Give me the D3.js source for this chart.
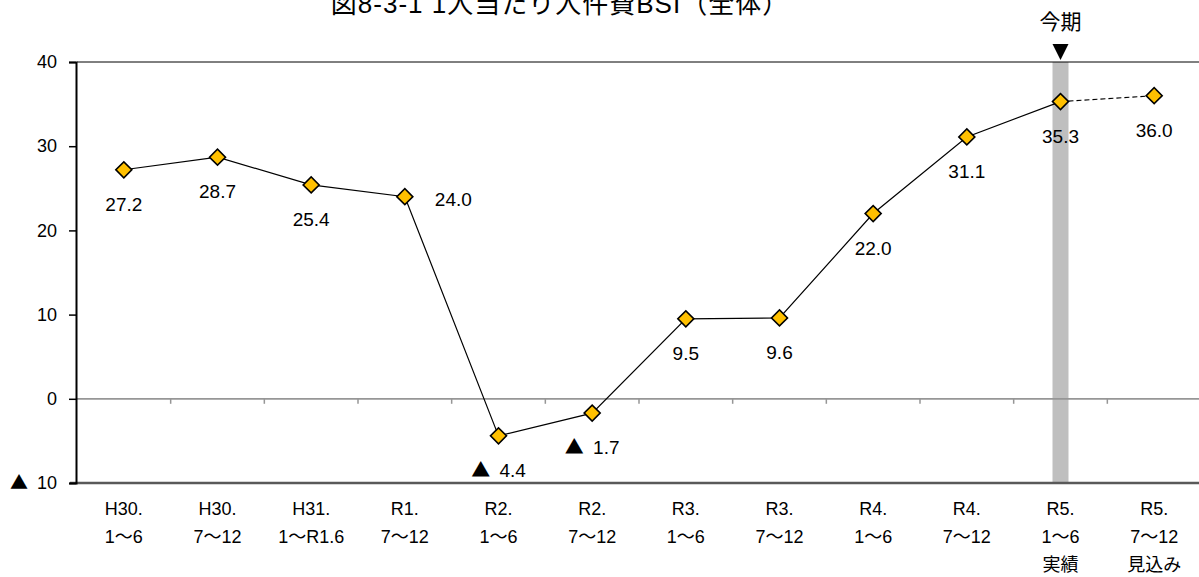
<!DOCTYPE html>
<html>
<head>
<meta charset="utf-8">
<script src="https://cdn.jsdelivr.net/npm/d3@7/dist/d3.min.js"></script>
<style>
  html, body { margin: 0; padding: 0; background: #fff; }
  svg { display: block; }
  text { font-family: "Liberation Sans", "Noto Sans CJK JP", sans-serif; fill: #000; }
  .tri { font-family: "Noto Sans CJK JP", sans-serif; }
</style>
</head>
<body>
<svg id="chart" width="1199" height="577"></svg>
<script>
// ---- data ----
const title = "図8-3-1 1人当たり人件費BSI（全体）";
const categories = ["H30.|1～6", "H30.|7～12", "H31.|1～R1.6", "R1.|7～12", "R2.|1～6", "R2.|7～12",
                    "R3.|1～6", "R3.|7～12", "R4.|1～6", "R4.|7～12", "R5.|1～6|実績", "R5.|7～12|見込み"];
const values = [27.2, 28.7, 25.4, 24.0, -4.4, -1.7, 9.5, 9.6, 22.0, 31.1, 35.3, 36.0];
const yTicks = [-10, 0, 10, 20, 30, 40];
const labelSide = ["below", "below", "below", "right", "below", "below", "below", "below", "below", "below", "below", "below"];
const currentIndex = 10;       // 今期 (actual), highlighted
const forecastIndex = 11;      // 見込み, dashed link
const currentLabel = "今期";
const negMark = "▲";

// ---- layout ----
const W = 1199, H = 577;
const plot = { left: 77, right: 1201, top: 62, bottom: 483 };

const svg = d3.select("#chart");

const x = d3.scaleBand().domain(categories).range([plot.left, plot.right]).padding(0);
const y = d3.scaleLinear().domain([-10, 40]).range([plot.bottom, plot.top]);
const cx = (i) => x(categories[i]) + x.bandwidth() / 2;

// write a number into a text element, with a big ▲ for negatives
function writeNum(sel, v, decimals) {
  sel.text(null);
  const s = decimals ? d3.format(".1f")(Math.abs(v)) : String(Math.abs(v));
  if (v < 0) {
    sel.append("tspan").attr("class", "tri").text(negMark);
    sel.append("tspan").attr("dx", 4).text(" " + s);
  } else {
    sel.append("tspan").text(s);
  }
}

// title
svg.append("text")
  .attr("x", 560).attr("y", 13)
  .attr("text-anchor", "middle")
  .style("font-size", "26px")
  .style("letter-spacing", "1px")
  .text(title);

// current-period band
svg.append("rect")
  .attr("x", cx(currentIndex) - 8)
  .attr("width", 16)
  .attr("y", y(40))
  .attr("height", y(-10) - y(40))
  .attr("fill", "#bfbfbf");

// top border line (40)
svg.append("line")
  .attr("x1", plot.left).attr("x2", W)
  .attr("y1", y(40)).attr("y2", y(40))
  .attr("stroke", "#000").attr("stroke-width", 1);

// zero line
svg.append("line")
  .attr("x1", plot.left).attr("x2", W)
  .attr("y1", y(0)).attr("y2", y(0))
  .attr("stroke", "#969696").attr("stroke-width", 1.8);

// zero-line category ticks (boundaries)
svg.append("g").selectAll("line")
  .data(categories.slice(1))
  .join("line")
  .attr("x1", d => x(d)).attr("x2", d => x(d))
  .attr("y1", y(0)).attr("y2", y(0) + 5)
  .attr("stroke", "#969696").attr("stroke-width", 1.5);

// bottom line (-10)
svg.append("line")
  .attr("x1", plot.left - 7).attr("x2", W)
  .attr("y1", y(-10)).attr("y2", y(-10))
  .attr("stroke", "#595959").attr("stroke-width", 2.5);

// y axis
const yAxis = d3.axisLeft(y).tickValues(yTicks).tickSize(7).tickPadding(12);
const gy = svg.append("g").attr("transform", `translate(${plot.left - 1},0)`).call(yAxis);
gy.select(".domain").attr("stroke", "#000").attr("stroke-width", 2);
gy.selectAll(".tick line").attr("stroke", "#000").attr("stroke-width", 1.5);
gy.selectAll(".tick text")
  .style("font-size", "18px")
  .style("font-family", "'Liberation Sans', 'Noto Sans CJK JP', sans-serif")
  .attr("fill", "#000")
  .each(function (d) { writeNum(d3.select(this), d, false); });

// category labels
const xl = svg.append("g");
categories.forEach((c, i) => {
  const lines = c.split("|");
  const t = xl.append("text")
    .attr("text-anchor", "middle")
    .style("font-size", "18px");
  lines.forEach((ln, k) => {
    t.append("tspan").attr("x", cx(i)).attr("y", 515 + k * 28).text(ln);
  });
});

// lines
const line = d3.line().x((d) => cx(d.i)).y((d) => y(d.v));
const pts = values.map((v, i) => ({ v, i }));
svg.append("path")
  .attr("d", line(pts.slice(0, forecastIndex)))
  .attr("fill", "none").attr("stroke", "#000").attr("stroke-width", 1.2);
svg.append("path")
  .attr("d", line(pts.slice(forecastIndex - 1, forecastIndex + 1)))
  .attr("fill", "none").attr("stroke", "#000").attr("stroke-width", 1.2)
  .attr("stroke-dasharray", "5,3");

// markers
const diamond = d3.symbol().type(d3.symbolSquare).size(128);
svg.append("g").selectAll("path")
  .data(pts)
  .join("path")
  .attr("d", diamond)
  .attr("transform", d => `translate(${cx(d.i)},${y(d.v)}) rotate(45)`)
  .attr("fill", "#ffc000")
  .attr("stroke", "#000")
  .attr("stroke-width", 1.6);

// data labels
svg.append("g").selectAll("text")
  .data(pts)
  .join("text")
  .attr("x", d => labelSide[d.i] === "right" ? cx(d.i) + 30 : cx(d.i))
  .attr("y", d => labelSide[d.i] === "right" ? y(d.v) + 9 : y(d.v) + 41)
  .attr("text-anchor", d => labelSide[d.i] === "right" ? "start" : "middle")
  .style("font-size", "19px")
  .each(function (d) { writeNum(d3.select(this), d.v, true); });

// 今期 marker
svg.append("text")
  .attr("x", cx(currentIndex)).attr("y", 29)
  .attr("text-anchor", "middle")
  .style("font-size", "21px")
  .text(currentLabel);
const tc = cx(currentIndex);
svg.append("path")
  .attr("d", `M${tc - 8},44 L${tc + 8},44 L${tc},60 Z`)
  .attr("fill", "#000");
</script>
</body>
</html>
